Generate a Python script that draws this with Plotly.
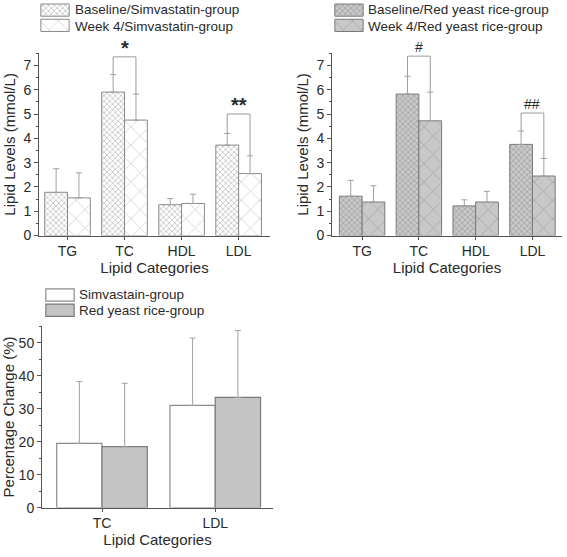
import plotly.graph_objects as go

categories = ["TG", "TC", "HDL", "LDL"]
# Simvastatin group (mmol/L)
simva_base = [1.78, 5.90, 1.27, 3.72]
simva_base_err_top = [2.75, 6.62, 1.52, 4.20]
simva_wk4 = [1.55, 4.75, 1.32, 2.55]
simva_wk4_err_top = [2.58, 5.82, 1.70, 3.28]
simva_sig = ["", "*", "", "**"]
simva_bracket = [None, 7.35, None, 5.0]

# Red yeast rice group (mmol/L)
ryr_base = [1.62, 5.82, 1.22, 3.75]
ryr_base_err_top = [2.27, 6.55, 1.47, 4.30]
ryr_wk4 = [1.38, 4.72, 1.38, 2.45]
ryr_wk4_err_top = [2.05, 5.90, 1.82, 3.17]
ryr_sig = ["", "#", "", "##"]
ryr_bracket = [None, 7.38, None, 5.04]

# Percentage change
pc_categories = ["TC", "LDL"]
pc_simva = [19.5, 31.0]
pc_simva_err_top = [38.2, 51.4]
pc_ryr = [18.5, 33.4]
pc_ryr_err_top = [37.7, 53.7]

legend1_names = ["Baseline/Simvastatin-group", "Week 4/Simvastatin-group"]
legend2_names = ["Baseline/Red yeast rice-group", "Week 4/Red yeast rice-group"]
legend3_names = ["Simvastain-group", "Red yeast rice-group"]

W, H = 567, 557
FONT = "Liberation Sans, Arial, sans-serif"
TXT = "#2a2a2a"
AX = "#555555"
EB = "#a0a0a0"

def px_x(p):
    return p / W

def px_y(p):
    return 1 - p / H

# marker styles
S_BASE = dict(color="white", line=dict(color="#8a8a8a", width=1),
              pattern=dict(shape="x", size=4, solidity=0.4, fgcolor="#909090", bgcolor="white"))
S_WK4 = dict(color="white", line=dict(color="#8a8a8a", width=1),
             pattern=dict(shape="x", size=13, solidity=0.1, fgcolor="#909090", bgcolor="white"))
R_BASE = dict(color="#c4c4c4", line=dict(color="#7a7a7a", width=1),
              pattern=dict(shape="x", size=4, solidity=0.4, fgcolor="#858585", bgcolor="#c8c8c8"))
R_WK4 = dict(color="#c4c4c4", line=dict(color="#7a7a7a", width=1),
             pattern=dict(shape="x", size=13, solidity=0.12, fgcolor="#858585", bgcolor="#c8c8c8"))
P_S = dict(color="white", line=dict(color="#8a8a8a", width=1.2))
P_R = dict(color="#c4c4c4", line=dict(color="#7a7a7a", width=1.2))

fig = go.Figure()

def err(vals, tops):
    return dict(type="data", symmetric=False, array=[t - v for t, v in zip(tops, vals)],
                arrayminus=[0] * len(vals), color=EB, thickness=1, width=3)

idx = list(range(len(categories)))
pidx = list(range(len(pc_categories)))

panels = [
    ("x", "y", idx, [(simva_base, simva_base_err_top, S_BASE), (simva_wk4, simva_wk4_err_top, S_WK4)], legend1_names),
    ("x2", "y2", idx, [(ryr_base, ryr_base_err_top, R_BASE), (ryr_wk4, ryr_wk4_err_top, R_WK4)], legend2_names),
    ("x3", "y3", pidx, [(pc_simva, pc_simva_err_top, P_S), (pc_ryr, pc_ryr_err_top, P_R)], legend3_names),
]
for xa, ya, xs, series, names in panels:
    for (vals, tops, style), nm in zip(series, names):
        fig.add_trace(go.Bar(x=xs, y=vals, name=nm, xaxis=xa, yaxis=ya, showlegend=False,
                             error_y=err(vals, tops), marker=style))

# custom legends: swatch bars on small hidden axes + text
legend_specs = [
    ("x4", "y4", legend1_names, [S_BASE, S_WK4], (40, 70), (2.5, 33.5), 73, [10, 26.5]),
    ("x5", "y5", legend2_names, [R_BASE, R_WK4], (334, 364), (2.5, 33.5), 366, [10, 26.5]),
    ("x6", "y6", legend3_names, [P_S, P_R], (45, 75), (291.5, 322.5), 77, [298.5, 315]),
]
for xa, ya, names, styles, _, _, tx, ty in legend_specs:
    for k, (nm, st) in enumerate(zip(names, styles)):
        fig.add_trace(go.Bar(x=[1], y=[k], orientation="h", width=0.8, offsetgroup="leg",
                             xaxis=xa, yaxis=ya, showlegend=False, hoverinfo="skip", marker=st))
        fig.add_annotation(x=px_x(tx), y=px_y(ty[k]), xref="paper", yref="paper", text=nm,
                           showarrow=False, xanchor="left", yanchor="middle",
                           font=dict(size=13.5, color=TXT, family=FONT))

def xaxis(dom, anchor, ticks, labels, rng):
    return dict(domain=dom, anchor=anchor, tickvals=ticks, ticktext=labels, range=rng,
                showline=True, linecolor=AX, linewidth=1, ticks="outside", ticklen=3, tickcolor=AX,
                ticklabelstandoff=0,
                showgrid=False, zeroline=False, tickfont=dict(size=14, color=TXT, family=FONT),
                title=dict(text="Lipid Categories", font=dict(size=15, color=TXT, family=FONT), standoff=0))

def yaxis(dom, anchor, rng, dtick, minor, title):
    return dict(domain=dom, anchor=anchor, range=rng, dtick=dtick, showline=True, linecolor=AX,
                linewidth=1, ticks="outside", ticklen=4, tickcolor=AX, showgrid=False, zeroline=False,
                minor=dict(ticks="outside", ticklen=2, dtick=minor, tickcolor=AX),
                tickfont=dict(size=14, color=TXT, family=FONT),
                title=dict(text=title, font=dict(size=15, color=TXT, family=FONT), standoff=4))

top_y = [px_y(239), px_y(54)]
bot_y = [px_y(515), px_y(331)]

layout = dict(
    width=W, height=H, margin=dict(l=0, r=0, t=0, b=0),
    paper_bgcolor="white", plot_bgcolor="white", showlegend=False,
    barmode="group", bargap=0.2, bargroupgap=0,
    font=dict(family=FONT, color=TXT),
    xaxis=xaxis([px_x(39), px_x(270)], "y", idx, categories, [-0.5, 3.55]),
    yaxis=yaxis(top_y, "x", [0, 7.5], 1, 0.5, "Lipid Levels (mmol/L)"),
    xaxis2=xaxis([px_x(332), px_x(562)], "y2", idx, categories, [-0.53, 3.52]),
    yaxis2=yaxis(top_y, "x2", [0, 7.5], 1, 0.5, "Lipid Levels (mmol/L)"),
    xaxis3=xaxis([px_x(42), px_x(273)], "y3", pidx, pc_categories, [-0.53, 1.51]),
    yaxis3=yaxis(bot_y, "x3", [0, 55], 10, 5, "Percentage Change (%)"),
)
for n, (xa, ya, _, _, (x0, x1), (y0, y1), _, _) in zip([4, 5, 6], legend_specs):
    layout[f"xaxis{n}"] = dict(domain=[px_x(x0), px_x(x1)], anchor=ya, range=[-0.03, 1.03], visible=False,
                               fixedrange=True)
    layout[f"yaxis{n}"] = dict(domain=[px_y(y1), px_y(y0)], anchor=xa, range=[1.5, -0.5], visible=False,
                               fixedrange=True)
fig.update_layout(**layout)

# significance brackets
def brackets(xref, yref, base_tops, wk_tops, tops, labels, size, bold):
    for i, (t, lab) in enumerate(zip(tops, labels)):
        if t is None:
            continue
        xl, xr = i - 0.2, i + 0.2
        for (x0, y0, x1, y1) in [(xl, t, xr, t), (xl, base_tops[i], xl, t), (xr, wk_tops[i], xr, t)]:
            fig.add_shape(type="line", xref=xref, yref=yref, x0=x0, y0=y0, x1=x1, y1=y1,
                          line=dict(color="#9a9a9a", width=1))
        txt = f"<b>{lab}</b>" if bold else lab
        fig.add_annotation(x=i, y=t, xref=xref, yref=yref, text=txt, showarrow=False,
                           yanchor="middle", yshift=9,
                           font=dict(size=size, color=TXT, family=FONT))

brackets("x", "y", simva_base_err_top, simva_wk4_err_top, simva_bracket, simva_sig, 20, True)
brackets("x2", "y2", ryr_base_err_top, ryr_wk4_err_top, ryr_bracket, ryr_sig, 14, False)

fig.write_html("out.html", config={"displayModeBar": False},
               post_script="document.body.style.margin='0';document.body.style.padding='0';")
